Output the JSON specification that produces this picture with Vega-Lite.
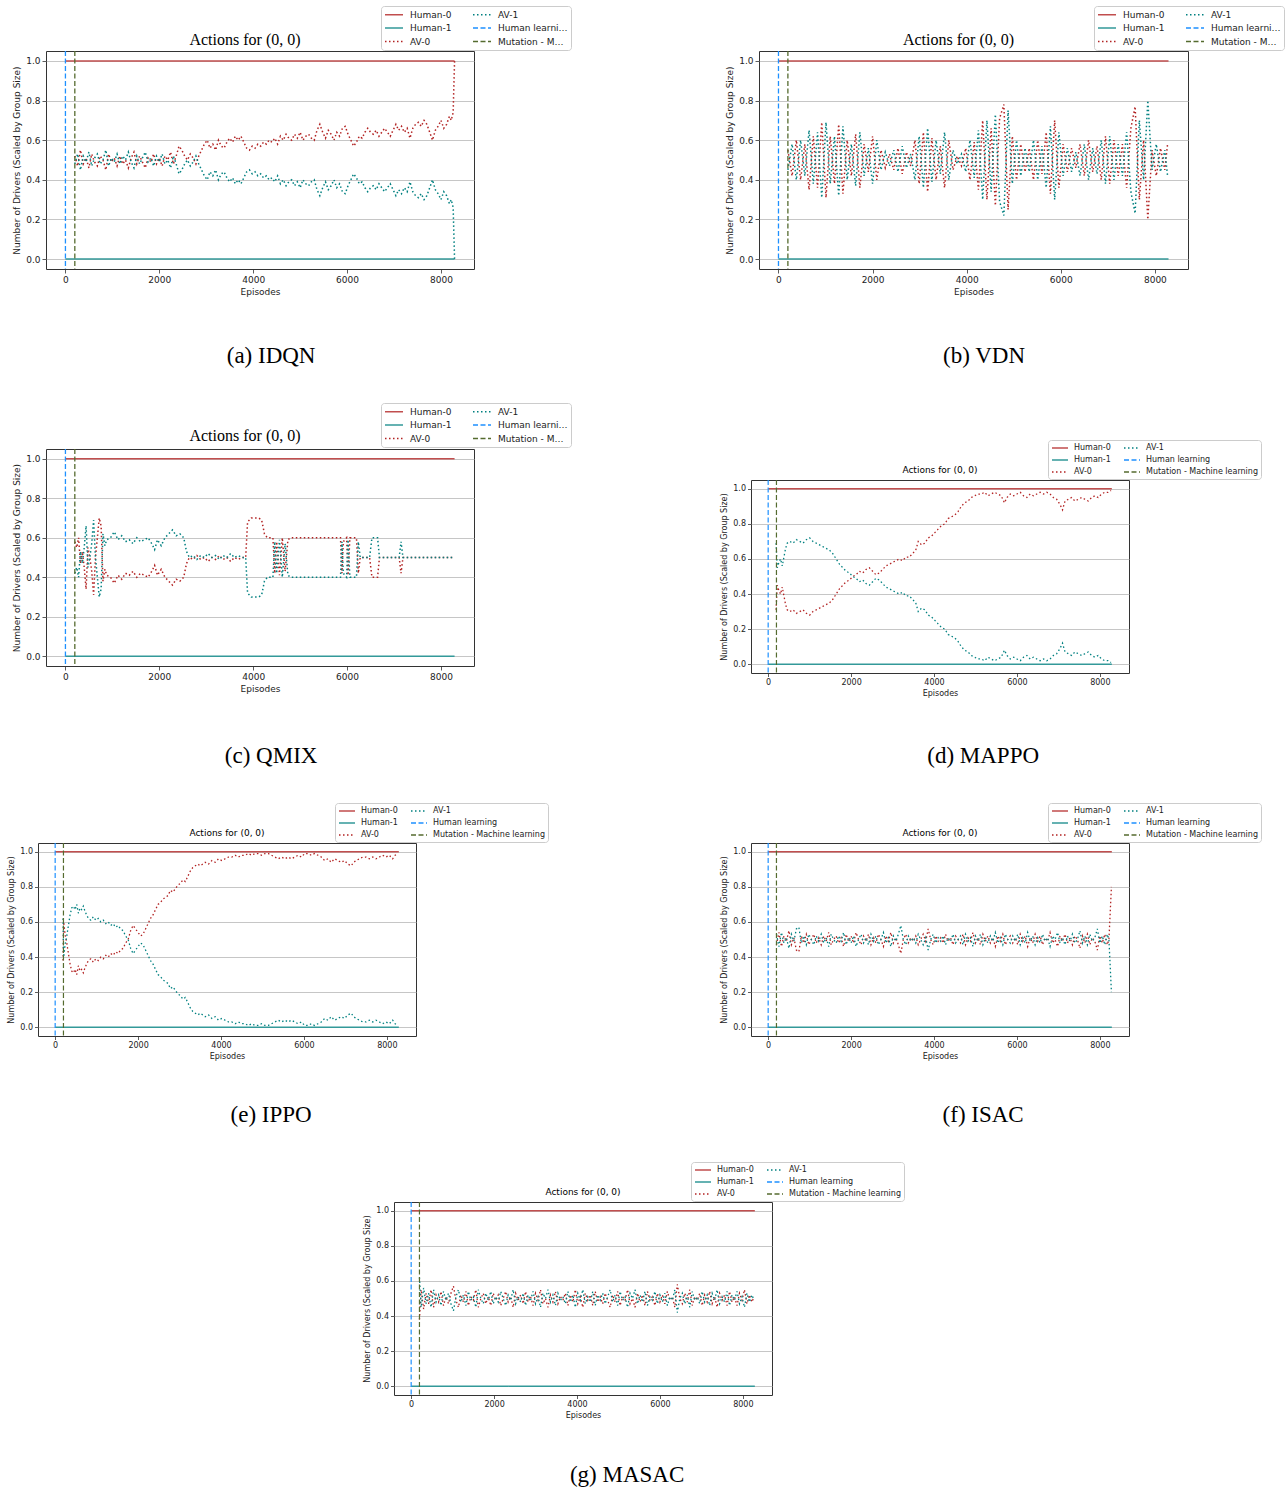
{
"$schema":"https://vega.github.io/schema/vega-lite/v6.json",
"background":"#ffffff",
"padding":{"left":7,"top":5,"right":0,"bottom":0},
"config":{"view":{"stroke":"#333333","strokeWidth":1},"font":"DejaVu Sans"},
"resolve":{"scale":{"color":"independent","strokeDash":"independent"},"legend":{"color":"independent","strokeDash":"independent"}},
"datasets":{
"hum":[{"ep":0,"Human-0":1,"Human-1":0},{"ep":8290,"Human-0":1,"Human-1":0}],
"rules":[{"ep":0,"s":"Human learning"},{"ep":200,"s":"Mutation - Machine learning"}],
"a":[{"ep":200,"AV-0":0.52,"AV-1":0.48},{"ep":260,"AV-0":0.47,"AV-1":0.53},{"ep":320,"AV-0":0.55,"AV-1":0.45},{"ep":380,"AV-0":0.48,"AV-1":0.52},{"ep":440,"AV-0":0.51,"AV-1":0.49},{"ep":500,"AV-0":0.46,"AV-1":0.54},{"ep":560,"AV-0":0.53,"AV-1":0.47},{"ep":620,"AV-0":0.49,"AV-1":0.51},{"ep":680,"AV-0":0.47,"AV-1":0.53},{"ep":740,"AV-0":0.52,"AV-1":0.48},{"ep":800,"AV-0":0.5,"AV-1":0.5},{"ep":860,"AV-0":0.45,"AV-1":0.55},{"ep":920,"AV-0":0.53,"AV-1":0.47},{"ep":980,"AV-0":0.49,"AV-1":0.51},{"ep":1040,"AV-0":0.51,"AV-1":0.49},{"ep":1100,"AV-0":0.47,"AV-1":0.53},{"ep":1160,"AV-0":0.52,"AV-1":0.48},{"ep":1220,"AV-0":0.48,"AV-1":0.52},{"ep":1280,"AV-0":0.5,"AV-1":0.5},{"ep":1340,"AV-0":0.46,"AV-1":0.54},{"ep":1400,"AV-0":0.51,"AV-1":0.49},{"ep":1460,"AV-0":0.54,"AV-1":0.46},{"ep":1520,"AV-0":0.48,"AV-1":0.52},{"ep":1580,"AV-0":0.52,"AV-1":0.48},{"ep":1640,"AV-0":0.49,"AV-1":0.51},{"ep":1700,"AV-0":0.46,"AV-1":0.54},{"ep":1760,"AV-0":0.51,"AV-1":0.49},{"ep":1820,"AV-0":0.49,"AV-1":0.51},{"ep":1880,"AV-0":0.53,"AV-1":0.47},{"ep":1940,"AV-0":0.48,"AV-1":0.52},{"ep":2000,"AV-0":0.51,"AV-1":0.49},{"ep":2060,"AV-0":0.47,"AV-1":0.53},{"ep":2120,"AV-0":0.52,"AV-1":0.48},{"ep":2180,"AV-0":0.5,"AV-1":0.5},{"ep":2240,"AV-0":0.54,"AV-1":0.46},{"ep":2300,"AV-0":0.48,"AV-1":0.52},{"ep":2360,"AV-0":0.52,"AV-1":0.48},{"ep":2420,"AV-0":0.57,"AV-1":0.43},{"ep":2480,"AV-0":0.55,"AV-1":0.45},{"ep":2540,"AV-0":0.52,"AV-1":0.48},{"ep":2600,"AV-0":0.5,"AV-1":0.5},{"ep":2660,"AV-0":0.53,"AV-1":0.47},{"ep":2720,"AV-0":0.51,"AV-1":0.49},{"ep":2780,"AV-0":0.48,"AV-1":0.52},{"ep":2840,"AV-0":0.52,"AV-1":0.48},{"ep":2900,"AV-0":0.55,"AV-1":0.45},{"ep":2960,"AV-0":0.58,"AV-1":0.42},{"ep":3020,"AV-0":0.6,"AV-1":0.4},{"ep":3080,"AV-0":0.56,"AV-1":0.44},{"ep":3140,"AV-0":0.58,"AV-1":0.42},{"ep":3200,"AV-0":0.55,"AV-1":0.45},{"ep":3260,"AV-0":0.6,"AV-1":0.4},{"ep":3320,"AV-0":0.57,"AV-1":0.43},{"ep":3380,"AV-0":0.56,"AV-1":0.44},{"ep":3440,"AV-0":0.59,"AV-1":0.41},{"ep":3500,"AV-0":0.61,"AV-1":0.39},{"ep":3560,"AV-0":0.59,"AV-1":0.41},{"ep":3620,"AV-0":0.62,"AV-1":0.38},{"ep":3680,"AV-0":0.6,"AV-1":0.4},{"ep":3740,"AV-0":0.62,"AV-1":0.38},{"ep":3800,"AV-0":0.59,"AV-1":0.41},{"ep":3860,"AV-0":0.56,"AV-1":0.44},{"ep":3920,"AV-0":0.55,"AV-1":0.45},{"ep":3980,"AV-0":0.57,"AV-1":0.43},{"ep":4040,"AV-0":0.56,"AV-1":0.44},{"ep":4100,"AV-0":0.58,"AV-1":0.42},{"ep":4160,"AV-0":0.57,"AV-1":0.43},{"ep":4220,"AV-0":0.59,"AV-1":0.41},{"ep":4280,"AV-0":0.58,"AV-1":0.42},{"ep":4340,"AV-0":0.6,"AV-1":0.4},{"ep":4400,"AV-0":0.59,"AV-1":0.41},{"ep":4460,"AV-0":0.61,"AV-1":0.39},{"ep":4520,"AV-0":0.58,"AV-1":0.42},{"ep":4580,"AV-0":0.62,"AV-1":0.38},{"ep":4640,"AV-0":0.6,"AV-1":0.4},{"ep":4700,"AV-0":0.63,"AV-1":0.37},{"ep":4760,"AV-0":0.61,"AV-1":0.39},{"ep":4820,"AV-0":0.6,"AV-1":0.4},{"ep":4880,"AV-0":0.63,"AV-1":0.37},{"ep":4940,"AV-0":0.61,"AV-1":0.39},{"ep":5000,"AV-0":0.64,"AV-1":0.36},{"ep":5060,"AV-0":0.6,"AV-1":0.4},{"ep":5120,"AV-0":0.62,"AV-1":0.38},{"ep":5180,"AV-0":0.63,"AV-1":0.37},{"ep":5240,"AV-0":0.61,"AV-1":0.39},{"ep":5300,"AV-0":0.6,"AV-1":0.4},{"ep":5360,"AV-0":0.65,"AV-1":0.35},{"ep":5420,"AV-0":0.68,"AV-1":0.32},{"ep":5480,"AV-0":0.64,"AV-1":0.36},{"ep":5540,"AV-0":0.61,"AV-1":0.39},{"ep":5600,"AV-0":0.65,"AV-1":0.35},{"ep":5660,"AV-0":0.63,"AV-1":0.37},{"ep":5720,"AV-0":0.6,"AV-1":0.4},{"ep":5780,"AV-0":0.64,"AV-1":0.36},{"ep":5840,"AV-0":0.62,"AV-1":0.38},{"ep":5900,"AV-0":0.66,"AV-1":0.34},{"ep":5960,"AV-0":0.67,"AV-1":0.33},{"ep":6020,"AV-0":0.63,"AV-1":0.37},{"ep":6080,"AV-0":0.6,"AV-1":0.4},{"ep":6140,"AV-0":0.57,"AV-1":0.43},{"ep":6200,"AV-0":0.59,"AV-1":0.41},{"ep":6260,"AV-0":0.62,"AV-1":0.38},{"ep":6320,"AV-0":0.61,"AV-1":0.39},{"ep":6380,"AV-0":0.64,"AV-1":0.36},{"ep":6440,"AV-0":0.66,"AV-1":0.34},{"ep":6500,"AV-0":0.64,"AV-1":0.36},{"ep":6560,"AV-0":0.63,"AV-1":0.37},{"ep":6620,"AV-0":0.65,"AV-1":0.35},{"ep":6680,"AV-0":0.62,"AV-1":0.38},{"ep":6740,"AV-0":0.64,"AV-1":0.36},{"ep":6800,"AV-0":0.66,"AV-1":0.34},{"ep":6860,"AV-0":0.64,"AV-1":0.36},{"ep":6920,"AV-0":0.62,"AV-1":0.38},{"ep":6980,"AV-0":0.65,"AV-1":0.35},{"ep":7040,"AV-0":0.68,"AV-1":0.32},{"ep":7100,"AV-0":0.65,"AV-1":0.35},{"ep":7160,"AV-0":0.67,"AV-1":0.33},{"ep":7220,"AV-0":0.64,"AV-1":0.36},{"ep":7280,"AV-0":0.66,"AV-1":0.34},{"ep":7340,"AV-0":0.61,"AV-1":0.39},{"ep":7400,"AV-0":0.66,"AV-1":0.34},{"ep":7460,"AV-0":0.68,"AV-1":0.32},{"ep":7520,"AV-0":0.69,"AV-1":0.31},{"ep":7580,"AV-0":0.67,"AV-1":0.33},{"ep":7640,"AV-0":0.7,"AV-1":0.3},{"ep":7700,"AV-0":0.68,"AV-1":0.32},{"ep":7760,"AV-0":0.64,"AV-1":0.36},{"ep":7820,"AV-0":0.6,"AV-1":0.4},{"ep":7880,"AV-0":0.65,"AV-1":0.35},{"ep":7940,"AV-0":0.67,"AV-1":0.33},{"ep":8000,"AV-0":0.7,"AV-1":0.3},{"ep":8060,"AV-0":0.66,"AV-1":0.34},{"ep":8120,"AV-0":0.68,"AV-1":0.32},{"ep":8180,"AV-0":0.72,"AV-1":0.28},{"ep":8220,"AV-0":0.7,"AV-1":0.3},{"ep":8260,"AV-0":0.74,"AV-1":0.26},{"ep":8290,"AV-0":1,"AV-1":0}],
"b":[{"ep":200,"AV-0":0.55,"AV-1":0.45},{"ep":290,"AV-0":0.42,"AV-1":0.58},{"ep":380,"AV-0":0.6,"AV-1":0.4},{"ep":470,"AV-0":0.4,"AV-1":0.6},{"ep":560,"AV-0":0.58,"AV-1":0.42},{"ep":650,"AV-0":0.35,"AV-1":0.65},{"ep":740,"AV-0":0.62,"AV-1":0.38},{"ep":830,"AV-0":0.36,"AV-1":0.64},{"ep":920,"AV-0":0.69,"AV-1":0.31},{"ep":1010,"AV-0":0.31,"AV-1":0.69},{"ep":1100,"AV-0":0.62,"AV-1":0.38},{"ep":1190,"AV-0":0.38,"AV-1":0.62},{"ep":1280,"AV-0":0.68,"AV-1":0.32},{"ep":1370,"AV-0":0.33,"AV-1":0.67},{"ep":1460,"AV-0":0.6,"AV-1":0.4},{"ep":1550,"AV-0":0.42,"AV-1":0.58},{"ep":1640,"AV-0":0.63,"AV-1":0.37},{"ep":1730,"AV-0":0.36,"AV-1":0.64},{"ep":1820,"AV-0":0.58,"AV-1":0.42},{"ep":1910,"AV-0":0.44,"AV-1":0.56},{"ep":2000,"AV-0":0.62,"AV-1":0.38},{"ep":2090,"AV-0":0.4,"AV-1":0.6},{"ep":2180,"AV-0":0.55,"AV-1":0.45},{"ep":2270,"AV-0":0.46,"AV-1":0.54},{"ep":2360,"AV-0":0.53,"AV-1":0.47},{"ep":2450,"AV-0":0.45,"AV-1":0.55},{"ep":2540,"AV-0":0.56,"AV-1":0.44},{"ep":2630,"AV-0":0.43,"AV-1":0.57},{"ep":2720,"AV-0":0.54,"AV-1":0.46},{"ep":2810,"AV-0":0.47,"AV-1":0.53},{"ep":2900,"AV-0":0.6,"AV-1":0.4},{"ep":2990,"AV-0":0.38,"AV-1":0.62},{"ep":3080,"AV-0":0.64,"AV-1":0.36},{"ep":3170,"AV-0":0.34,"AV-1":0.66},{"ep":3260,"AV-0":0.61,"AV-1":0.39},{"ep":3350,"AV-0":0.4,"AV-1":0.6},{"ep":3440,"AV-0":0.57,"AV-1":0.43},{"ep":3530,"AV-0":0.36,"AV-1":0.64},{"ep":3620,"AV-0":0.6,"AV-1":0.4},{"ep":3710,"AV-0":0.45,"AV-1":0.55},{"ep":3800,"AV-0":0.52,"AV-1":0.48},{"ep":3890,"AV-0":0.47,"AV-1":0.53},{"ep":3980,"AV-0":0.56,"AV-1":0.44},{"ep":4070,"AV-0":0.4,"AV-1":0.6},{"ep":4160,"AV-0":0.59,"AV-1":0.41},{"ep":4250,"AV-0":0.35,"AV-1":0.65},{"ep":4340,"AV-0":0.7,"AV-1":0.3},{"ep":4430,"AV-0":0.3,"AV-1":0.7},{"ep":4520,"AV-0":0.66,"AV-1":0.34},{"ep":4610,"AV-0":0.27,"AV-1":0.73},{"ep":4700,"AV-0":0.71,"AV-1":0.29},{"ep":4790,"AV-0":0.78,"AV-1":0.22},{"ep":4880,"AV-0":0.25,"AV-1":0.75},{"ep":4970,"AV-0":0.62,"AV-1":0.38},{"ep":5060,"AV-0":0.4,"AV-1":0.6},{"ep":5150,"AV-0":0.58,"AV-1":0.42},{"ep":5240,"AV-0":0.44,"AV-1":0.56},{"ep":5330,"AV-0":0.56,"AV-1":0.44},{"ep":5420,"AV-0":0.4,"AV-1":0.6},{"ep":5510,"AV-0":0.6,"AV-1":0.4},{"ep":5600,"AV-0":0.43,"AV-1":0.57},{"ep":5690,"AV-0":0.64,"AV-1":0.36},{"ep":5780,"AV-0":0.33,"AV-1":0.67},{"ep":5870,"AV-0":0.7,"AV-1":0.3},{"ep":5960,"AV-0":0.36,"AV-1":0.64},{"ep":6050,"AV-0":0.58,"AV-1":0.42},{"ep":6140,"AV-0":0.44,"AV-1":0.56},{"ep":6230,"AV-0":0.56,"AV-1":0.44},{"ep":6320,"AV-0":0.46,"AV-1":0.54},{"ep":6410,"AV-0":0.58,"AV-1":0.42},{"ep":6500,"AV-0":0.42,"AV-1":0.58},{"ep":6590,"AV-0":0.6,"AV-1":0.4},{"ep":6680,"AV-0":0.44,"AV-1":0.56},{"ep":6770,"AV-0":0.57,"AV-1":0.43},{"ep":6860,"AV-0":0.4,"AV-1":0.6},{"ep":6950,"AV-0":0.62,"AV-1":0.38},{"ep":7040,"AV-0":0.38,"AV-1":0.62},{"ep":7130,"AV-0":0.6,"AV-1":0.4},{"ep":7220,"AV-0":0.42,"AV-1":0.58},{"ep":7310,"AV-0":0.58,"AV-1":0.42},{"ep":7400,"AV-0":0.36,"AV-1":0.64},{"ep":7490,"AV-0":0.66,"AV-1":0.34},{"ep":7580,"AV-0":0.77,"AV-1":0.23},{"ep":7670,"AV-0":0.3,"AV-1":0.7},{"ep":7760,"AV-0":0.6,"AV-1":0.4},{"ep":7850,"AV-0":0.2,"AV-1":0.8},{"ep":7940,"AV-0":0.55,"AV-1":0.45},{"ep":8030,"AV-0":0.42,"AV-1":0.58},{"ep":8120,"AV-0":0.56,"AV-1":0.44},{"ep":8210,"AV-0":0.45,"AV-1":0.55},{"ep":8270,"AV-0":0.58,"AV-1":0.42}],
"c":[{"ep":200,"AV-0":0.58,"AV-1":0.42},{"ep":240,"AV-0":0.55,"AV-1":0.45},{"ep":280,"AV-0":0.6,"AV-1":0.4},{"ep":320,"AV-0":0.47,"AV-1":0.53},{"ep":360,"AV-0":0.53,"AV-1":0.47},{"ep":400,"AV-0":0.45,"AV-1":0.55},{"ep":440,"AV-0":0.34,"AV-1":0.66},{"ep":480,"AV-0":0.55,"AV-1":0.45},{"ep":520,"AV-0":0.5,"AV-1":0.5},{"ep":560,"AV-0":0.43,"AV-1":0.57},{"ep":600,"AV-0":0.31,"AV-1":0.69},{"ep":640,"AV-0":0.5,"AV-1":0.5},{"ep":680,"AV-0":0.6,"AV-1":0.4},{"ep":720,"AV-0":0.7,"AV-1":0.3},{"ep":760,"AV-0":0.66,"AV-1":0.34},{"ep":800,"AV-0":0.38,"AV-1":0.62},{"ep":840,"AV-0":0.44,"AV-1":0.56},{"ep":880,"AV-0":0.41,"AV-1":0.59},{"ep":960,"AV-0":0.4,"AV-1":0.6},{"ep":1040,"AV-0":0.37,"AV-1":0.63},{"ep":1120,"AV-0":0.41,"AV-1":0.59},{"ep":1200,"AV-0":0.39,"AV-1":0.61},{"ep":1280,"AV-0":0.42,"AV-1":0.58},{"ep":1360,"AV-0":0.41,"AV-1":0.59},{"ep":1440,"AV-0":0.43,"AV-1":0.57},{"ep":1520,"AV-0":0.4,"AV-1":0.6},{"ep":1600,"AV-0":0.42,"AV-1":0.58},{"ep":1680,"AV-0":0.41,"AV-1":0.59},{"ep":1760,"AV-0":0.4,"AV-1":0.6},{"ep":1840,"AV-0":0.43,"AV-1":0.57},{"ep":1900,"AV-0":0.46,"AV-1":0.54},{"ep":1960,"AV-0":0.41,"AV-1":0.59},{"ep":2040,"AV-0":0.44,"AV-1":0.56},{"ep":2120,"AV-0":0.4,"AV-1":0.6},{"ep":2200,"AV-0":0.38,"AV-1":0.62},{"ep":2280,"AV-0":0.36,"AV-1":0.64},{"ep":2360,"AV-0":0.39,"AV-1":0.61},{"ep":2440,"AV-0":0.38,"AV-1":0.62},{"ep":2520,"AV-0":0.4,"AV-1":0.6},{"ep":2580,"AV-0":0.47,"AV-1":0.53},{"ep":2640,"AV-0":0.5,"AV-1":0.5},{"ep":2720,"AV-0":0.49,"AV-1":0.51},{"ep":2800,"AV-0":0.51,"AV-1":0.49},{"ep":2880,"AV-0":0.49,"AV-1":0.51},{"ep":2960,"AV-0":0.5,"AV-1":0.5},{"ep":3040,"AV-0":0.48,"AV-1":0.52},{"ep":3120,"AV-0":0.5,"AV-1":0.5},{"ep":3200,"AV-0":0.49,"AV-1":0.51},{"ep":3280,"AV-0":0.51,"AV-1":0.49},{"ep":3360,"AV-0":0.49,"AV-1":0.51},{"ep":3440,"AV-0":0.5,"AV-1":0.5},{"ep":3520,"AV-0":0.48,"AV-1":0.52},{"ep":3600,"AV-0":0.5,"AV-1":0.5},{"ep":3680,"AV-0":0.49,"AV-1":0.51},{"ep":3760,"AV-0":0.5,"AV-1":0.5},{"ep":3840,"AV-0":0.5,"AV-1":0.5},{"ep":3880,"AV-0":0.68,"AV-1":0.32},{"ep":3960,"AV-0":0.7,"AV-1":0.3},{"ep":4040,"AV-0":0.7,"AV-1":0.3},{"ep":4120,"AV-0":0.7,"AV-1":0.3},{"ep":4180,"AV-0":0.69,"AV-1":0.31},{"ep":4240,"AV-0":0.62,"AV-1":0.38},{"ep":4300,"AV-0":0.6,"AV-1":0.4},{"ep":4420,"AV-0":0.6,"AV-1":0.4},{"ep":4460,"AV-0":0.42,"AV-1":0.58},{"ep":4500,"AV-0":0.58,"AV-1":0.42},{"ep":4560,"AV-0":0.41,"AV-1":0.59},{"ep":4620,"AV-0":0.6,"AV-1":0.4},{"ep":4680,"AV-0":0.43,"AV-1":0.57},{"ep":4740,"AV-0":0.59,"AV-1":0.41},{"ep":4800,"AV-0":0.6,"AV-1":0.4},{"ep":5400,"AV-0":0.6,"AV-1":0.4},{"ep":5860,"AV-0":0.6,"AV-1":0.4},{"ep":5890,"AV-0":0.42,"AV-1":0.58},{"ep":5920,"AV-0":0.58,"AV-1":0.42},{"ep":5990,"AV-0":0.6,"AV-1":0.4},{"ep":6020,"AV-0":0.41,"AV-1":0.59},{"ep":6060,"AV-0":0.6,"AV-1":0.4},{"ep":6200,"AV-0":0.6,"AV-1":0.4},{"ep":6240,"AV-0":0.42,"AV-1":0.58},{"ep":6280,"AV-0":0.5,"AV-1":0.5},{"ep":6480,"AV-0":0.5,"AV-1":0.5},{"ep":6530,"AV-0":0.4,"AV-1":0.6},{"ep":6650,"AV-0":0.4,"AV-1":0.6},{"ep":6690,"AV-0":0.5,"AV-1":0.5},{"ep":7110,"AV-0":0.5,"AV-1":0.5},{"ep":7150,"AV-0":0.42,"AV-1":0.58},{"ep":7190,"AV-0":0.5,"AV-1":0.5},{"ep":8290,"AV-0":0.5,"AV-1":0.5}],
"d":[{"ep":190,"AV-0":0.31,"AV-1":0.69},{"ep":220,"AV-0":0.45,"AV-1":0.55},{"ep":260,"AV-0":0.42,"AV-1":0.58},{"ep":300,"AV-0":0.4,"AV-1":0.6},{"ep":340,"AV-0":0.44,"AV-1":0.56},{"ep":380,"AV-0":0.39,"AV-1":0.61},{"ep":420,"AV-0":0.34,"AV-1":0.66},{"ep":460,"AV-0":0.31,"AV-1":0.69},{"ep":520,"AV-0":0.3,"AV-1":0.7},{"ep":600,"AV-0":0.31,"AV-1":0.69},{"ep":680,"AV-0":0.29,"AV-1":0.71},{"ep":760,"AV-0":0.3,"AV-1":0.7},{"ep":840,"AV-0":0.31,"AV-1":0.69},{"ep":920,"AV-0":0.29,"AV-1":0.71},{"ep":1000,"AV-0":0.28,"AV-1":0.72},{"ep":1080,"AV-0":0.3,"AV-1":0.7},{"ep":1160,"AV-0":0.31,"AV-1":0.69},{"ep":1240,"AV-0":0.32,"AV-1":0.68},{"ep":1320,"AV-0":0.33,"AV-1":0.67},{"ep":1400,"AV-0":0.34,"AV-1":0.66},{"ep":1480,"AV-0":0.35,"AV-1":0.65},{"ep":1560,"AV-0":0.37,"AV-1":0.63},{"ep":1640,"AV-0":0.4,"AV-1":0.6},{"ep":1720,"AV-0":0.43,"AV-1":0.57},{"ep":1800,"AV-0":0.45,"AV-1":0.55},{"ep":1880,"AV-0":0.47,"AV-1":0.53},{"ep":1960,"AV-0":0.48,"AV-1":0.52},{"ep":2040,"AV-0":0.5,"AV-1":0.5},{"ep":2120,"AV-0":0.51,"AV-1":0.49},{"ep":2200,"AV-0":0.53,"AV-1":0.47},{"ep":2280,"AV-0":0.52,"AV-1":0.48},{"ep":2360,"AV-0":0.54,"AV-1":0.46},{"ep":2440,"AV-0":0.55,"AV-1":0.45},{"ep":2520,"AV-0":0.53,"AV-1":0.47},{"ep":2600,"AV-0":0.51,"AV-1":0.49},{"ep":2680,"AV-0":0.52,"AV-1":0.48},{"ep":2760,"AV-0":0.54,"AV-1":0.46},{"ep":2840,"AV-0":0.56,"AV-1":0.44},{"ep":2920,"AV-0":0.57,"AV-1":0.43},{"ep":3000,"AV-0":0.58,"AV-1":0.42},{"ep":3080,"AV-0":0.59,"AV-1":0.41},{"ep":3160,"AV-0":0.6,"AV-1":0.4},{"ep":3240,"AV-0":0.59,"AV-1":0.41},{"ep":3320,"AV-0":0.61,"AV-1":0.39},{"ep":3400,"AV-0":0.61,"AV-1":0.39},{"ep":3480,"AV-0":0.63,"AV-1":0.37},{"ep":3560,"AV-0":0.65,"AV-1":0.35},{"ep":3620,"AV-0":0.7,"AV-1":0.3},{"ep":3700,"AV-0":0.68,"AV-1":0.32},{"ep":3780,"AV-0":0.69,"AV-1":0.31},{"ep":3860,"AV-0":0.72,"AV-1":0.28},{"ep":3940,"AV-0":0.73,"AV-1":0.27},{"ep":4020,"AV-0":0.75,"AV-1":0.25},{"ep":4100,"AV-0":0.77,"AV-1":0.23},{"ep":4180,"AV-0":0.79,"AV-1":0.21},{"ep":4260,"AV-0":0.8,"AV-1":0.2},{"ep":4340,"AV-0":0.83,"AV-1":0.17},{"ep":4420,"AV-0":0.84,"AV-1":0.16},{"ep":4500,"AV-0":0.85,"AV-1":0.15},{"ep":4580,"AV-0":0.87,"AV-1":0.13},{"ep":4660,"AV-0":0.9,"AV-1":0.1},{"ep":4740,"AV-0":0.92,"AV-1":0.08},{"ep":4820,"AV-0":0.93,"AV-1":0.07},{"ep":4900,"AV-0":0.95,"AV-1":0.05},{"ep":4980,"AV-0":0.96,"AV-1":0.04},{"ep":5060,"AV-0":0.97,"AV-1":0.03},{"ep":5140,"AV-0":0.97,"AV-1":0.03},{"ep":5220,"AV-0":0.98,"AV-1":0.02},{"ep":5300,"AV-0":0.96,"AV-1":0.04},{"ep":5380,"AV-0":0.97,"AV-1":0.03},{"ep":5460,"AV-0":0.98,"AV-1":0.02},{"ep":5540,"AV-0":0.97,"AV-1":0.03},{"ep":5620,"AV-0":0.96,"AV-1":0.04},{"ep":5700,"AV-0":0.92,"AV-1":0.08},{"ep":5760,"AV-0":0.95,"AV-1":0.05},{"ep":5840,"AV-0":0.97,"AV-1":0.03},{"ep":5920,"AV-0":0.96,"AV-1":0.04},{"ep":6000,"AV-0":0.97,"AV-1":0.03},{"ep":6080,"AV-0":0.98,"AV-1":0.02},{"ep":6160,"AV-0":0.96,"AV-1":0.04},{"ep":6240,"AV-0":0.95,"AV-1":0.05},{"ep":6320,"AV-0":0.97,"AV-1":0.03},{"ep":6400,"AV-0":0.96,"AV-1":0.04},{"ep":6480,"AV-0":0.97,"AV-1":0.03},{"ep":6560,"AV-0":0.98,"AV-1":0.02},{"ep":6640,"AV-0":0.97,"AV-1":0.03},{"ep":6720,"AV-0":0.98,"AV-1":0.02},{"ep":6800,"AV-0":0.97,"AV-1":0.03},{"ep":6880,"AV-0":0.95,"AV-1":0.05},{"ep":6960,"AV-0":0.94,"AV-1":0.06},{"ep":7040,"AV-0":0.91,"AV-1":0.09},{"ep":7100,"AV-0":0.88,"AV-1":0.12},{"ep":7160,"AV-0":0.93,"AV-1":0.07},{"ep":7240,"AV-0":0.94,"AV-1":0.06},{"ep":7320,"AV-0":0.95,"AV-1":0.05},{"ep":7400,"AV-0":0.93,"AV-1":0.07},{"ep":7480,"AV-0":0.94,"AV-1":0.06},{"ep":7560,"AV-0":0.95,"AV-1":0.05},{"ep":7640,"AV-0":0.94,"AV-1":0.06},{"ep":7720,"AV-0":0.93,"AV-1":0.07},{"ep":7800,"AV-0":0.95,"AV-1":0.05},{"ep":7880,"AV-0":0.96,"AV-1":0.04},{"ep":7960,"AV-0":0.95,"AV-1":0.05},{"ep":8040,"AV-0":0.97,"AV-1":0.03},{"ep":8120,"AV-0":0.98,"AV-1":0.02},{"ep":8200,"AV-0":0.98,"AV-1":0.02},{"ep":8270,"AV-0":0.99,"AV-1":0.01}],
"e":[{"ep":190,"AV-0":0.38,"AV-1":0.62},{"ep":205,"AV-0":0.6,"AV-1":0.4},{"ep":240,"AV-0":0.53,"AV-1":0.47},{"ep":280,"AV-0":0.48,"AV-1":0.52},{"ep":320,"AV-0":0.42,"AV-1":0.58},{"ep":360,"AV-0":0.36,"AV-1":0.64},{"ep":400,"AV-0":0.32,"AV-1":0.68},{"ep":440,"AV-0":0.31,"AV-1":0.69},{"ep":480,"AV-0":0.33,"AV-1":0.67},{"ep":520,"AV-0":0.3,"AV-1":0.7},{"ep":560,"AV-0":0.35,"AV-1":0.65},{"ep":600,"AV-0":0.32,"AV-1":0.68},{"ep":640,"AV-0":0.33,"AV-1":0.67},{"ep":680,"AV-0":0.31,"AV-1":0.69},{"ep":720,"AV-0":0.34,"AV-1":0.66},{"ep":760,"AV-0":0.36,"AV-1":0.64},{"ep":800,"AV-0":0.38,"AV-1":0.62},{"ep":860,"AV-0":0.39,"AV-1":0.61},{"ep":920,"AV-0":0.37,"AV-1":0.63},{"ep":980,"AV-0":0.39,"AV-1":0.61},{"ep":1040,"AV-0":0.38,"AV-1":0.62},{"ep":1100,"AV-0":0.4,"AV-1":0.6},{"ep":1160,"AV-0":0.39,"AV-1":0.61},{"ep":1220,"AV-0":0.41,"AV-1":0.59},{"ep":1280,"AV-0":0.4,"AV-1":0.6},{"ep":1340,"AV-0":0.42,"AV-1":0.58},{"ep":1400,"AV-0":0.41,"AV-1":0.59},{"ep":1460,"AV-0":0.43,"AV-1":0.57},{"ep":1520,"AV-0":0.42,"AV-1":0.58},{"ep":1580,"AV-0":0.44,"AV-1":0.56},{"ep":1640,"AV-0":0.45,"AV-1":0.55},{"ep":1700,"AV-0":0.48,"AV-1":0.52},{"ep":1760,"AV-0":0.5,"AV-1":0.5},{"ep":1820,"AV-0":0.55,"AV-1":0.45},{"ep":1880,"AV-0":0.58,"AV-1":0.42},{"ep":1940,"AV-0":0.56,"AV-1":0.44},{"ep":2000,"AV-0":0.54,"AV-1":0.46},{"ep":2060,"AV-0":0.52,"AV-1":0.48},{"ep":2120,"AV-0":0.53,"AV-1":0.47},{"ep":2180,"AV-0":0.56,"AV-1":0.44},{"ep":2240,"AV-0":0.59,"AV-1":0.41},{"ep":2300,"AV-0":0.62,"AV-1":0.38},{"ep":2360,"AV-0":0.64,"AV-1":0.36},{"ep":2420,"AV-0":0.67,"AV-1":0.33},{"ep":2480,"AV-0":0.7,"AV-1":0.3},{"ep":2540,"AV-0":0.71,"AV-1":0.29},{"ep":2600,"AV-0":0.73,"AV-1":0.27},{"ep":2660,"AV-0":0.74,"AV-1":0.26},{"ep":2720,"AV-0":0.75,"AV-1":0.25},{"ep":2780,"AV-0":0.78,"AV-1":0.22},{"ep":2840,"AV-0":0.77,"AV-1":0.23},{"ep":2900,"AV-0":0.79,"AV-1":0.21},{"ep":2960,"AV-0":0.81,"AV-1":0.19},{"ep":3020,"AV-0":0.82,"AV-1":0.18},{"ep":3080,"AV-0":0.84,"AV-1":0.16},{"ep":3140,"AV-0":0.83,"AV-1":0.17},{"ep":3200,"AV-0":0.86,"AV-1":0.14},{"ep":3260,"AV-0":0.89,"AV-1":0.11},{"ep":3320,"AV-0":0.91,"AV-1":0.09},{"ep":3380,"AV-0":0.92,"AV-1":0.08},{"ep":3440,"AV-0":0.93,"AV-1":0.07},{"ep":3500,"AV-0":0.92,"AV-1":0.08},{"ep":3560,"AV-0":0.93,"AV-1":0.07},{"ep":3620,"AV-0":0.94,"AV-1":0.06},{"ep":3700,"AV-0":0.93,"AV-1":0.07},{"ep":3780,"AV-0":0.95,"AV-1":0.05},{"ep":3860,"AV-0":0.94,"AV-1":0.06},{"ep":3940,"AV-0":0.96,"AV-1":0.04},{"ep":4020,"AV-0":0.95,"AV-1":0.05},{"ep":4100,"AV-0":0.96,"AV-1":0.04},{"ep":4180,"AV-0":0.97,"AV-1":0.03},{"ep":4260,"AV-0":0.97,"AV-1":0.03},{"ep":4340,"AV-0":0.98,"AV-1":0.02},{"ep":4420,"AV-0":0.97,"AV-1":0.03},{"ep":4500,"AV-0":0.98,"AV-1":0.02},{"ep":4580,"AV-0":0.98,"AV-1":0.02},{"ep":4660,"AV-0":0.99,"AV-1":0.01},{"ep":4740,"AV-0":0.98,"AV-1":0.02},{"ep":4820,"AV-0":0.99,"AV-1":0.01},{"ep":4900,"AV-0":0.99,"AV-1":0.01},{"ep":4980,"AV-0":0.98,"AV-1":0.02},{"ep":5060,"AV-0":0.99,"AV-1":0.01},{"ep":5140,"AV-0":0.99,"AV-1":0.01},{"ep":5220,"AV-0":0.98,"AV-1":0.02},{"ep":5300,"AV-0":0.97,"AV-1":0.03},{"ep":5380,"AV-0":0.96,"AV-1":0.04},{"ep":5460,"AV-0":0.97,"AV-1":0.03},{"ep":5540,"AV-0":0.96,"AV-1":0.04},{"ep":5620,"AV-0":0.97,"AV-1":0.03},{"ep":5700,"AV-0":0.96,"AV-1":0.04},{"ep":5780,"AV-0":0.97,"AV-1":0.03},{"ep":5860,"AV-0":0.98,"AV-1":0.02},{"ep":5940,"AV-0":0.97,"AV-1":0.03},{"ep":6020,"AV-0":0.99,"AV-1":0.01},{"ep":6100,"AV-0":0.99,"AV-1":0.01},{"ep":6180,"AV-0":0.98,"AV-1":0.02},{"ep":6260,"AV-0":0.99,"AV-1":0.01},{"ep":6340,"AV-0":0.98,"AV-1":0.02},{"ep":6420,"AV-0":0.97,"AV-1":0.03},{"ep":6500,"AV-0":0.95,"AV-1":0.05},{"ep":6580,"AV-0":0.96,"AV-1":0.04},{"ep":6660,"AV-0":0.94,"AV-1":0.06},{"ep":6740,"AV-0":0.96,"AV-1":0.04},{"ep":6820,"AV-0":0.95,"AV-1":0.05},{"ep":6900,"AV-0":0.94,"AV-1":0.06},{"ep":6980,"AV-0":0.95,"AV-1":0.05},{"ep":7060,"AV-0":0.93,"AV-1":0.07},{"ep":7140,"AV-0":0.92,"AV-1":0.08},{"ep":7200,"AV-0":0.94,"AV-1":0.06},{"ep":7260,"AV-0":0.95,"AV-1":0.05},{"ep":7340,"AV-0":0.96,"AV-1":0.04},{"ep":7420,"AV-0":0.97,"AV-1":0.03},{"ep":7500,"AV-0":0.97,"AV-1":0.03},{"ep":7580,"AV-0":0.96,"AV-1":0.04},{"ep":7660,"AV-0":0.97,"AV-1":0.03},{"ep":7740,"AV-0":0.96,"AV-1":0.04},{"ep":7820,"AV-0":0.97,"AV-1":0.03},{"ep":7900,"AV-0":0.98,"AV-1":0.02},{"ep":7980,"AV-0":0.97,"AV-1":0.03},{"ep":8060,"AV-0":0.98,"AV-1":0.02},{"ep":8140,"AV-0":0.96,"AV-1":0.04},{"ep":8200,"AV-0":0.98,"AV-1":0.02},{"ep":8270,"AV-0":0.99,"AV-1":0.01}],
"f":[{"ep":200,"AV-0":0.47,"AV-1":0.53},{"ep":260,"AV-0":0.54,"AV-1":0.46},{"ep":320,"AV-0":0.46,"AV-1":0.54},{"ep":380,"AV-0":0.52,"AV-1":0.48},{"ep":440,"AV-0":0.49,"AV-1":0.51},{"ep":500,"AV-0":0.55,"AV-1":0.45},{"ep":560,"AV-0":0.47,"AV-1":0.53},{"ep":620,"AV-0":0.51,"AV-1":0.49},{"ep":680,"AV-0":0.44,"AV-1":0.56},{"ep":740,"AV-0":0.43,"AV-1":0.57},{"ep":800,"AV-0":0.52,"AV-1":0.48},{"ep":860,"AV-0":0.48,"AV-1":0.52},{"ep":920,"AV-0":0.53,"AV-1":0.47},{"ep":980,"AV-0":0.47,"AV-1":0.53},{"ep":1040,"AV-0":0.5,"AV-1":0.5},{"ep":1100,"AV-0":0.53,"AV-1":0.47},{"ep":1160,"AV-0":0.48,"AV-1":0.52},{"ep":1220,"AV-0":0.51,"AV-1":0.49},{"ep":1280,"AV-0":0.47,"AV-1":0.53},{"ep":1340,"AV-0":0.52,"AV-1":0.48},{"ep":1400,"AV-0":0.49,"AV-1":0.51},{"ep":1460,"AV-0":0.54,"AV-1":0.46},{"ep":1520,"AV-0":0.47,"AV-1":0.53},{"ep":1580,"AV-0":0.5,"AV-1":0.5},{"ep":1640,"AV-0":0.52,"AV-1":0.48},{"ep":1700,"AV-0":0.48,"AV-1":0.52},{"ep":1760,"AV-0":0.51,"AV-1":0.49},{"ep":1820,"AV-0":0.46,"AV-1":0.54},{"ep":1880,"AV-0":0.53,"AV-1":0.47},{"ep":1940,"AV-0":0.49,"AV-1":0.51},{"ep":2000,"AV-0":0.52,"AV-1":0.48},{"ep":2060,"AV-0":0.48,"AV-1":0.52},{"ep":2120,"AV-0":0.54,"AV-1":0.46},{"ep":2180,"AV-0":0.5,"AV-1":0.5},{"ep":2240,"AV-0":0.47,"AV-1":0.53},{"ep":2300,"AV-0":0.52,"AV-1":0.48},{"ep":2360,"AV-0":0.49,"AV-1":0.51},{"ep":2420,"AV-0":0.53,"AV-1":0.47},{"ep":2480,"AV-0":0.47,"AV-1":0.53},{"ep":2540,"AV-0":0.51,"AV-1":0.49},{"ep":2600,"AV-0":0.48,"AV-1":0.52},{"ep":2660,"AV-0":0.53,"AV-1":0.47},{"ep":2720,"AV-0":0.5,"AV-1":0.5},{"ep":2780,"AV-0":0.46,"AV-1":0.54},{"ep":2840,"AV-0":0.52,"AV-1":0.48},{"ep":2900,"AV-0":0.49,"AV-1":0.51},{"ep":2960,"AV-0":0.54,"AV-1":0.46},{"ep":3020,"AV-0":0.48,"AV-1":0.52},{"ep":3080,"AV-0":0.51,"AV-1":0.49},{"ep":3140,"AV-0":0.47,"AV-1":0.53},{"ep":3200,"AV-0":0.42,"AV-1":0.58},{"ep":3260,"AV-0":0.5,"AV-1":0.5},{"ep":3320,"AV-0":0.53,"AV-1":0.47},{"ep":3380,"AV-0":0.48,"AV-1":0.52},{"ep":3440,"AV-0":0.51,"AV-1":0.49},{"ep":3500,"AV-0":0.49,"AV-1":0.51},{"ep":3560,"AV-0":0.52,"AV-1":0.48},{"ep":3620,"AV-0":0.47,"AV-1":0.53},{"ep":3680,"AV-0":0.5,"AV-1":0.5},{"ep":3740,"AV-0":0.53,"AV-1":0.47},{"ep":3800,"AV-0":0.49,"AV-1":0.51},{"ep":3860,"AV-0":0.56,"AV-1":0.44},{"ep":3920,"AV-0":0.5,"AV-1":0.5},{"ep":3980,"AV-0":0.47,"AV-1":0.53},{"ep":4040,"AV-0":0.52,"AV-1":0.48},{"ep":4100,"AV-0":0.49,"AV-1":0.51},{"ep":4160,"AV-0":0.51,"AV-1":0.49},{"ep":4220,"AV-0":0.48,"AV-1":0.52},{"ep":4280,"AV-0":0.53,"AV-1":0.47},{"ep":4340,"AV-0":0.49,"AV-1":0.51},{"ep":4400,"AV-0":0.51,"AV-1":0.49},{"ep":4460,"AV-0":0.47,"AV-1":0.53},{"ep":4520,"AV-0":0.52,"AV-1":0.48},{"ep":4580,"AV-0":0.5,"AV-1":0.5},{"ep":4640,"AV-0":0.48,"AV-1":0.52},{"ep":4700,"AV-0":0.53,"AV-1":0.47},{"ep":4760,"AV-0":0.47,"AV-1":0.53},{"ep":4820,"AV-0":0.51,"AV-1":0.49},{"ep":4880,"AV-0":0.49,"AV-1":0.51},{"ep":4940,"AV-0":0.54,"AV-1":0.46},{"ep":5000,"AV-0":0.48,"AV-1":0.52},{"ep":5060,"AV-0":0.51,"AV-1":0.49},{"ep":5120,"AV-0":0.47,"AV-1":0.53},{"ep":5180,"AV-0":0.53,"AV-1":0.47},{"ep":5240,"AV-0":0.49,"AV-1":0.51},{"ep":5300,"AV-0":0.52,"AV-1":0.48},{"ep":5360,"AV-0":0.48,"AV-1":0.52},{"ep":5420,"AV-0":0.51,"AV-1":0.49},{"ep":5480,"AV-0":0.46,"AV-1":0.54},{"ep":5540,"AV-0":0.52,"AV-1":0.48},{"ep":5600,"AV-0":0.49,"AV-1":0.51},{"ep":5660,"AV-0":0.53,"AV-1":0.47},{"ep":5720,"AV-0":0.47,"AV-1":0.53},{"ep":5780,"AV-0":0.5,"AV-1":0.5},{"ep":5840,"AV-0":0.52,"AV-1":0.48},{"ep":5900,"AV-0":0.48,"AV-1":0.52},{"ep":5960,"AV-0":0.51,"AV-1":0.49},{"ep":6020,"AV-0":0.47,"AV-1":0.53},{"ep":6080,"AV-0":0.53,"AV-1":0.47},{"ep":6140,"AV-0":0.49,"AV-1":0.51},{"ep":6200,"AV-0":0.52,"AV-1":0.48},{"ep":6260,"AV-0":0.46,"AV-1":0.54},{"ep":6320,"AV-0":0.51,"AV-1":0.49},{"ep":6380,"AV-0":0.48,"AV-1":0.52},{"ep":6440,"AV-0":0.53,"AV-1":0.47},{"ep":6500,"AV-0":0.49,"AV-1":0.51},{"ep":6560,"AV-0":0.52,"AV-1":0.48},{"ep":6620,"AV-0":0.47,"AV-1":0.53},{"ep":6680,"AV-0":0.51,"AV-1":0.49},{"ep":6740,"AV-0":0.49,"AV-1":0.51},{"ep":6800,"AV-0":0.54,"AV-1":0.46},{"ep":6860,"AV-0":0.48,"AV-1":0.52},{"ep":6920,"AV-0":0.5,"AV-1":0.5},{"ep":6980,"AV-0":0.46,"AV-1":0.54},{"ep":7040,"AV-0":0.52,"AV-1":0.48},{"ep":7100,"AV-0":0.49,"AV-1":0.51},{"ep":7160,"AV-0":0.53,"AV-1":0.47},{"ep":7220,"AV-0":0.48,"AV-1":0.52},{"ep":7280,"AV-0":0.51,"AV-1":0.49},{"ep":7340,"AV-0":0.47,"AV-1":0.53},{"ep":7400,"AV-0":0.52,"AV-1":0.48},{"ep":7460,"AV-0":0.5,"AV-1":0.5},{"ep":7520,"AV-0":0.45,"AV-1":0.55},{"ep":7580,"AV-0":0.52,"AV-1":0.48},{"ep":7640,"AV-0":0.48,"AV-1":0.52},{"ep":7700,"AV-0":0.53,"AV-1":0.47},{"ep":7760,"AV-0":0.47,"AV-1":0.53},{"ep":7820,"AV-0":0.51,"AV-1":0.49},{"ep":7880,"AV-0":0.49,"AV-1":0.51},{"ep":7940,"AV-0":0.44,"AV-1":0.56},{"ep":8000,"AV-0":0.52,"AV-1":0.48},{"ep":8060,"AV-0":0.48,"AV-1":0.52},{"ep":8120,"AV-0":0.53,"AV-1":0.47},{"ep":8180,"AV-0":0.47,"AV-1":0.53},{"ep":8220,"AV-0":0.5,"AV-1":0.5},{"ep":8280,"AV-0":0.8,"AV-1":0.2}],
"g":[{"ep":200,"AV-0":0.38,"AV-1":0.62},{"ep":240,"AV-0":0.55,"AV-1":0.45},{"ep":300,"AV-0":0.44,"AV-1":0.56},{"ep":360,"AV-0":0.53,"AV-1":0.47},{"ep":420,"AV-0":0.47,"AV-1":0.53},{"ep":480,"AV-0":0.55,"AV-1":0.45},{"ep":540,"AV-0":0.45,"AV-1":0.55},{"ep":600,"AV-0":0.52,"AV-1":0.48},{"ep":660,"AV-0":0.48,"AV-1":0.52},{"ep":720,"AV-0":0.54,"AV-1":0.46},{"ep":780,"AV-0":0.46,"AV-1":0.54},{"ep":840,"AV-0":0.51,"AV-1":0.49},{"ep":900,"AV-0":0.47,"AV-1":0.53},{"ep":960,"AV-0":0.53,"AV-1":0.47},{"ep":1020,"AV-0":0.57,"AV-1":0.43},{"ep":1080,"AV-0":0.49,"AV-1":0.51},{"ep":1140,"AV-0":0.45,"AV-1":0.55},{"ep":1200,"AV-0":0.52,"AV-1":0.48},{"ep":1260,"AV-0":0.48,"AV-1":0.52},{"ep":1320,"AV-0":0.54,"AV-1":0.46},{"ep":1380,"AV-0":0.46,"AV-1":0.54},{"ep":1440,"AV-0":0.51,"AV-1":0.49},{"ep":1500,"AV-0":0.49,"AV-1":0.51},{"ep":1560,"AV-0":0.55,"AV-1":0.45},{"ep":1620,"AV-0":0.45,"AV-1":0.55},{"ep":1680,"AV-0":0.5,"AV-1":0.5},{"ep":1740,"AV-0":0.53,"AV-1":0.47},{"ep":1800,"AV-0":0.47,"AV-1":0.53},{"ep":1860,"AV-0":0.51,"AV-1":0.49},{"ep":1920,"AV-0":0.46,"AV-1":0.54},{"ep":1980,"AV-0":0.53,"AV-1":0.47},{"ep":2040,"AV-0":0.49,"AV-1":0.51},{"ep":2100,"AV-0":0.52,"AV-1":0.48},{"ep":2160,"AV-0":0.46,"AV-1":0.54},{"ep":2220,"AV-0":0.5,"AV-1":0.5},{"ep":2280,"AV-0":0.54,"AV-1":0.46},{"ep":2340,"AV-0":0.48,"AV-1":0.52},{"ep":2400,"AV-0":0.51,"AV-1":0.49},{"ep":2460,"AV-0":0.45,"AV-1":0.55},{"ep":2520,"AV-0":0.53,"AV-1":0.47},{"ep":2580,"AV-0":0.49,"AV-1":0.51},{"ep":2640,"AV-0":0.52,"AV-1":0.48},{"ep":2700,"AV-0":0.47,"AV-1":0.53},{"ep":2760,"AV-0":0.54,"AV-1":0.46},{"ep":2820,"AV-0":0.48,"AV-1":0.52},{"ep":2880,"AV-0":0.51,"AV-1":0.49},{"ep":2940,"AV-0":0.46,"AV-1":0.54},{"ep":3000,"AV-0":0.53,"AV-1":0.47},{"ep":3060,"AV-0":0.49,"AV-1":0.51},{"ep":3120,"AV-0":0.55,"AV-1":0.45},{"ep":3180,"AV-0":0.47,"AV-1":0.53},{"ep":3240,"AV-0":0.5,"AV-1":0.5},{"ep":3300,"AV-0":0.45,"AV-1":0.55},{"ep":3360,"AV-0":0.52,"AV-1":0.48},{"ep":3420,"AV-0":0.48,"AV-1":0.52},{"ep":3480,"AV-0":0.54,"AV-1":0.46},{"ep":3540,"AV-0":0.47,"AV-1":0.53},{"ep":3600,"AV-0":0.51,"AV-1":0.49},{"ep":3660,"AV-0":0.49,"AV-1":0.51},{"ep":3720,"AV-0":0.53,"AV-1":0.47},{"ep":3780,"AV-0":0.46,"AV-1":0.54},{"ep":3840,"AV-0":0.52,"AV-1":0.48},{"ep":3900,"AV-0":0.48,"AV-1":0.52},{"ep":3960,"AV-0":0.55,"AV-1":0.45},{"ep":4020,"AV-0":0.47,"AV-1":0.53},{"ep":4080,"AV-0":0.51,"AV-1":0.49},{"ep":4140,"AV-0":0.45,"AV-1":0.55},{"ep":4200,"AV-0":0.53,"AV-1":0.47},{"ep":4260,"AV-0":0.49,"AV-1":0.51},{"ep":4320,"AV-0":0.52,"AV-1":0.48},{"ep":4380,"AV-0":0.46,"AV-1":0.54},{"ep":4440,"AV-0":0.54,"AV-1":0.46},{"ep":4500,"AV-0":0.48,"AV-1":0.52},{"ep":4560,"AV-0":0.51,"AV-1":0.49},{"ep":4620,"AV-0":0.47,"AV-1":0.53},{"ep":4680,"AV-0":0.53,"AV-1":0.47},{"ep":4740,"AV-0":0.49,"AV-1":0.51},{"ep":4800,"AV-0":0.45,"AV-1":0.55},{"ep":4860,"AV-0":0.52,"AV-1":0.48},{"ep":4920,"AV-0":0.48,"AV-1":0.52},{"ep":4980,"AV-0":0.54,"AV-1":0.46},{"ep":5040,"AV-0":0.46,"AV-1":0.54},{"ep":5100,"AV-0":0.51,"AV-1":0.49},{"ep":5160,"AV-0":0.49,"AV-1":0.51},{"ep":5220,"AV-0":0.55,"AV-1":0.45},{"ep":5280,"AV-0":0.47,"AV-1":0.53},{"ep":5340,"AV-0":0.5,"AV-1":0.5},{"ep":5400,"AV-0":0.45,"AV-1":0.55},{"ep":5460,"AV-0":0.53,"AV-1":0.47},{"ep":5520,"AV-0":0.48,"AV-1":0.52},{"ep":5580,"AV-0":0.52,"AV-1":0.48},{"ep":5640,"AV-0":0.46,"AV-1":0.54},{"ep":5700,"AV-0":0.54,"AV-1":0.46},{"ep":5760,"AV-0":0.49,"AV-1":0.51},{"ep":5820,"AV-0":0.51,"AV-1":0.49},{"ep":5880,"AV-0":0.46,"AV-1":0.54},{"ep":5940,"AV-0":0.53,"AV-1":0.47},{"ep":6000,"AV-0":0.48,"AV-1":0.52},{"ep":6060,"AV-0":0.52,"AV-1":0.48},{"ep":6120,"AV-0":0.47,"AV-1":0.53},{"ep":6180,"AV-0":0.54,"AV-1":0.46},{"ep":6240,"AV-0":0.49,"AV-1":0.51},{"ep":6300,"AV-0":0.51,"AV-1":0.49},{"ep":6360,"AV-0":0.45,"AV-1":0.55},{"ep":6420,"AV-0":0.58,"AV-1":0.42},{"ep":6480,"AV-0":0.5,"AV-1":0.5},{"ep":6540,"AV-0":0.47,"AV-1":0.53},{"ep":6600,"AV-0":0.53,"AV-1":0.47},{"ep":6660,"AV-0":0.48,"AV-1":0.52},{"ep":6720,"AV-0":0.55,"AV-1":0.45},{"ep":6780,"AV-0":0.46,"AV-1":0.54},{"ep":6840,"AV-0":0.51,"AV-1":0.49},{"ep":6900,"AV-0":0.49,"AV-1":0.51},{"ep":6960,"AV-0":0.53,"AV-1":0.47},{"ep":7020,"AV-0":0.46,"AV-1":0.54},{"ep":7080,"AV-0":0.52,"AV-1":0.48},{"ep":7140,"AV-0":0.48,"AV-1":0.52},{"ep":7200,"AV-0":0.54,"AV-1":0.46},{"ep":7260,"AV-0":0.47,"AV-1":0.53},{"ep":7320,"AV-0":0.51,"AV-1":0.49},{"ep":7380,"AV-0":0.45,"AV-1":0.55},{"ep":7440,"AV-0":0.53,"AV-1":0.47},{"ep":7500,"AV-0":0.49,"AV-1":0.51},{"ep":7560,"AV-0":0.52,"AV-1":0.48},{"ep":7620,"AV-0":0.46,"AV-1":0.54},{"ep":7680,"AV-0":0.54,"AV-1":0.46},{"ep":7740,"AV-0":0.48,"AV-1":0.52},{"ep":7800,"AV-0":0.51,"AV-1":0.49},{"ep":7860,"AV-0":0.46,"AV-1":0.54},{"ep":7920,"AV-0":0.53,"AV-1":0.47},{"ep":7980,"AV-0":0.49,"AV-1":0.51},{"ep":8040,"AV-0":0.55,"AV-1":0.45},{"ep":8100,"AV-0":0.47,"AV-1":0.53},{"ep":8160,"AV-0":0.52,"AV-1":0.48},{"ep":8220,"AV-0":0.48,"AV-1":0.52},{"ep":8270,"AV-0":0.51,"AV-1":0.49}]
},
"spacing":34,
"vconcat":[
{"spacing":0,"bounds":"flush","resolve":{"scale":{"color":"independent","strokeDash":"independent"},"legend":{"color":"independent","strokeDash":"independent"}},"hconcat":[
 {"width":8,"height":1,"data":{"values":[]},"mark":"point","view":{"stroke":null}},
 {"spacing":153,"resolve":{"scale":{"color":"independent","strokeDash":"independent"},"legend":{"color":"independent","strokeDash":"independent"}},"hconcat":[
 {"title":{"text":"(a) IDQN","orient":"bottom","anchor":"middle","frame":"bounds","font":"Liberation Serif","fontSize":23,"fontWeight":"normal","color":"#000000","offset":48,"dx":-21},
  "resolve":{"scale":{"color":"independent","strokeDash":"independent"},"legend":{"color":"independent","strokeDash":"independent"}},
  "vconcat":[
  {"width":428,"height":218,
   "title":{"text":"Actions for (0, 0)","font":"Liberation Serif","fontSize":16,"fontWeight":"normal","color":"#000000","offset":-42,"dx":-15,"anchor":"middle","frame":"group"},
   "encoding":{
    "x":{"field":"ep","type":"quantitative","scale":{"domain":[-414,8704],"nice":false,"zero":false},"axis":{"values":[0,2000,4000,6000,8000],"format":"d","title":"Episodes","grid":false,"domain":false,"tickSize":4,"tickColor":"#333333","tickWidth":0.8,"labelFontSize":9,"labelFont":"DejaVu Sans","labelColor":"#222222","labelPadding":2,"labelFlush":false,"labelOverlap":false,"titleFontSize":9,"titleFont":"DejaVu Sans","titleFontWeight":"normal","titleColor":"#222222","titlePadding":3}},
    "color":{"field":"s","type":"nominal","scale":{"domain":["Human-0","Human-1","AV-0","AV-1","Human learning","Mutation - Machine learning"],"range":["#c14e4e","#339999","#b22222","#008080","#1e90ff","#556b2f"]},"legend":{"title":null,"orient":"none","legendX":335,"legendY":-45,"columns":2,"symbolType":"M-1,0H3","symbolSize":81,"symbolStrokeWidth":1.5,"labelFontSize":9,"labelFont":"DejaVu Sans","labelColor":"#222222","labelOffset":15,"labelLimit":70,"columnPadding":18,"rowPadding":2.5,"padding":3,"strokeColor":"#cccccc","fillColor":"#ffffff","cornerRadius":3}},
    "strokeDash":{"field":"s","type":"nominal","scale":{"domain":["Human-0","Human-1","AV-0","AV-1","Human learning","Mutation - Machine learning"],"range":[[1,0],[1,0],[1.5,2.5],[1.5,2.5],[5,2.5],[5,2.5]]},"legend":{"title":null,"orient":"none","legendX":335,"legendY":-45,"columns":2,"symbolType":"M-1,0H3","symbolSize":81,"symbolStrokeWidth":1.5,"labelFontSize":9,"labelFont":"DejaVu Sans","labelColor":"#222222","labelOffset":15,"labelLimit":70,"columnPadding":18,"rowPadding":2.5,"padding":3,"strokeColor":"#cccccc","fillColor":"#ffffff","cornerRadius":3}}
   },
   "layer":[
    {"data":{"name":"hum"},"transform":[{"fold":["Human-0","Human-1"],"as":["s","v"]}],"mark":{"type":"line","strokeWidth":1.5},"encoding":{"y":{"field":"v","type":"quantitative","scale":{"domain":[-0.05,1.05],"nice":false,"zero":false},"axis":{"values":[0,0.2,0.4,0.6,0.8,1],"tickCount":12,"format":".1f","title":"Number of Drivers (Scaled by Group Size)","grid":true,"gridColor":"#b8b8b8","gridWidth":0.8,"domain":false,"tickSize":4,"tickColor":"#333333","tickWidth":0.8,"labelFontSize":9,"labelFont":"DejaVu Sans","labelColor":"#222222","labelPadding":2,"labelOverlap":false,"titleFontSize":9,"titleFont":"DejaVu Sans","titleFontWeight":"normal","titleColor":"#222222","titlePadding":4}}}},
    {"data":{"name":"a"},"transform":[{"fold":["AV-0","AV-1"],"as":["s","v"]}],"mark":{"type":"line","strokeWidth":1.5},"encoding":{"y":{"field":"v","type":"quantitative"}}},
    {"data":{"name":"rules"},"mark":{"type":"rule","strokeWidth":1.3},"encoding":{}}
   ]}
 ]},
 {"title":{"text":"(b) VDN","orient":"bottom","anchor":"middle","frame":"bounds","font":"Liberation Serif","fontSize":23,"fontWeight":"normal","color":"#000000","offset":48,"dx":-21},
  "resolve":{"scale":{"color":"independent","strokeDash":"independent"},"legend":{"color":"independent","strokeDash":"independent"}},
  "vconcat":[
  {"width":429,"height":218,
   "title":{"text":"Actions for (0, 0)","font":"Liberation Serif","fontSize":16,"fontWeight":"normal","color":"#000000","offset":-42,"dx":-15,"anchor":"middle","frame":"group"},
   "encoding":{
    "x":{"field":"ep","type":"quantitative","scale":{"domain":[-414,8704],"nice":false,"zero":false},"axis":{"values":[0,2000,4000,6000,8000],"format":"d","title":"Episodes","grid":false,"domain":false,"tickSize":4,"tickColor":"#333333","tickWidth":0.8,"labelFontSize":9,"labelFont":"DejaVu Sans","labelColor":"#222222","labelPadding":2,"labelFlush":false,"labelOverlap":false,"titleFontSize":9,"titleFont":"DejaVu Sans","titleFontWeight":"normal","titleColor":"#222222","titlePadding":3}},
    "color":{"field":"s","type":"nominal","scale":{"domain":["Human-0","Human-1","AV-0","AV-1","Human learning","Mutation - Machine learning"],"range":["#c14e4e","#339999","#b22222","#008080","#1e90ff","#556b2f"]},"legend":{"title":null,"orient":"none","legendX":335,"legendY":-45,"columns":2,"symbolType":"M-1,0H3","symbolSize":81,"symbolStrokeWidth":1.5,"labelFontSize":9,"labelFont":"DejaVu Sans","labelColor":"#222222","labelOffset":15,"labelLimit":70,"columnPadding":18,"rowPadding":2.5,"padding":3,"strokeColor":"#cccccc","fillColor":"#ffffff","cornerRadius":3}},
    "strokeDash":{"field":"s","type":"nominal","scale":{"domain":["Human-0","Human-1","AV-0","AV-1","Human learning","Mutation - Machine learning"],"range":[[1,0],[1,0],[1.5,2.5],[1.5,2.5],[5,2.5],[5,2.5]]},"legend":{"title":null,"orient":"none","legendX":335,"legendY":-45,"columns":2,"symbolType":"M-1,0H3","symbolSize":81,"symbolStrokeWidth":1.5,"labelFontSize":9,"labelFont":"DejaVu Sans","labelColor":"#222222","labelOffset":15,"labelLimit":70,"columnPadding":18,"rowPadding":2.5,"padding":3,"strokeColor":"#cccccc","fillColor":"#ffffff","cornerRadius":3}}
   },
   "layer":[
    {"data":{"name":"hum"},"transform":[{"fold":["Human-0","Human-1"],"as":["s","v"]}],"mark":{"type":"line","strokeWidth":1.5},"encoding":{"y":{"field":"v","type":"quantitative","scale":{"domain":[-0.05,1.05],"nice":false,"zero":false},"axis":{"values":[0,0.2,0.4,0.6,0.8,1],"tickCount":12,"format":".1f","title":"Number of Drivers (Scaled by Group Size)","grid":true,"gridColor":"#b8b8b8","gridWidth":0.8,"domain":false,"tickSize":4,"tickColor":"#333333","tickWidth":0.8,"labelFontSize":9,"labelFont":"DejaVu Sans","labelColor":"#222222","labelPadding":2,"labelOverlap":false,"titleFontSize":9,"titleFont":"DejaVu Sans","titleFontWeight":"normal","titleColor":"#222222","titlePadding":4}}}},
    {"data":{"name":"b"},"transform":[{"fold":["AV-0","AV-1"],"as":["s","v"]}],"mark":{"type":"line","strokeWidth":1.5},"encoding":{"y":{"field":"v","type":"quantitative"}}},
    {"data":{"name":"rules"},"mark":{"type":"rule","strokeWidth":1.3},"encoding":{}}
   ]}
 ]}
]}]},
{"spacing":0,"bounds":"flush","resolve":{"scale":{"color":"independent","strokeDash":"independent"},"legend":{"color":"independent","strokeDash":"independent"}},"hconcat":[
 {"width":8,"height":1,"data":{"values":[]},"mark":"point","view":{"stroke":null}},
 {"spacing":148,"resolve":{"scale":{"color":"independent","strokeDash":"independent"},"legend":{"color":"independent","strokeDash":"independent"}},"hconcat":[
 {"title":{"text":"(c) QMIX","orient":"bottom","anchor":"middle","frame":"bounds","font":"Liberation Serif","fontSize":23,"fontWeight":"normal","color":"#000000","offset":51,"dx":-21},
  "resolve":{"scale":{"color":"independent","strokeDash":"independent"},"legend":{"color":"independent","strokeDash":"independent"}},
  "vconcat":[
  {"width":428,"height":217,
   "title":{"text":"Actions for (0, 0)","font":"Liberation Serif","fontSize":16,"fontWeight":"normal","color":"#000000","offset":-41,"dx":-15,"anchor":"middle","frame":"group"},
   "encoding":{
    "x":{"field":"ep","type":"quantitative","scale":{"domain":[-414,8704],"nice":false,"zero":false},"axis":{"values":[0,2000,4000,6000,8000],"format":"d","title":"Episodes","grid":false,"domain":false,"tickSize":4,"tickColor":"#333333","tickWidth":0.8,"labelFontSize":9,"labelFont":"DejaVu Sans","labelColor":"#222222","labelPadding":2,"labelFlush":false,"labelOverlap":false,"titleFontSize":9,"titleFont":"DejaVu Sans","titleFontWeight":"normal","titleColor":"#222222","titlePadding":3}},
    "color":{"field":"s","type":"nominal","scale":{"domain":["Human-0","Human-1","AV-0","AV-1","Human learning","Mutation - Machine learning"],"range":["#c14e4e","#339999","#b22222","#008080","#1e90ff","#556b2f"]},"legend":{"title":null,"orient":"none","legendX":335,"legendY":-46,"columns":2,"symbolType":"M-1,0H3","symbolSize":81,"symbolStrokeWidth":1.5,"labelFontSize":9,"labelFont":"DejaVu Sans","labelColor":"#222222","labelOffset":15,"labelLimit":70,"columnPadding":18,"rowPadding":2.5,"padding":3,"strokeColor":"#cccccc","fillColor":"#ffffff","cornerRadius":3}},
    "strokeDash":{"field":"s","type":"nominal","scale":{"domain":["Human-0","Human-1","AV-0","AV-1","Human learning","Mutation - Machine learning"],"range":[[1,0],[1,0],[1.5,2.5],[1.5,2.5],[5,2.5],[5,2.5]]},"legend":{"title":null,"orient":"none","legendX":335,"legendY":-46,"columns":2,"symbolType":"M-1,0H3","symbolSize":81,"symbolStrokeWidth":1.5,"labelFontSize":9,"labelFont":"DejaVu Sans","labelColor":"#222222","labelOffset":15,"labelLimit":70,"columnPadding":18,"rowPadding":2.5,"padding":3,"strokeColor":"#cccccc","fillColor":"#ffffff","cornerRadius":3}}
   },
   "layer":[
    {"data":{"name":"hum"},"transform":[{"fold":["Human-0","Human-1"],"as":["s","v"]}],"mark":{"type":"line","strokeWidth":1.5},"encoding":{"y":{"field":"v","type":"quantitative","scale":{"domain":[-0.05,1.05],"nice":false,"zero":false},"axis":{"values":[0,0.2,0.4,0.6,0.8,1],"tickCount":12,"format":".1f","title":"Number of Drivers (Scaled by Group Size)","grid":true,"gridColor":"#b8b8b8","gridWidth":0.8,"domain":false,"tickSize":4,"tickColor":"#333333","tickWidth":0.8,"labelFontSize":9,"labelFont":"DejaVu Sans","labelColor":"#222222","labelPadding":2,"labelOverlap":false,"titleFontSize":9,"titleFont":"DejaVu Sans","titleFontWeight":"normal","titleColor":"#222222","titlePadding":4}}}},
    {"data":{"name":"c"},"transform":[{"fold":["AV-0","AV-1"],"as":["s","v"]}],"mark":{"type":"line","strokeWidth":1.5},"encoding":{"y":{"field":"v","type":"quantitative"}}},
    {"data":{"name":"rules"},"mark":{"type":"rule","strokeWidth":1.3},"encoding":{}}
   ]}
 ]},
 {"title":{"text":"(d) MAPPO","orient":"bottom","anchor":"middle","frame":"bounds","font":"Liberation Serif","fontSize":23,"fontWeight":"normal","color":"#000000","offset":47,"dx":-8},
  "resolve":{"scale":{"color":"independent","strokeDash":"independent"},"legend":{"color":"independent","strokeDash":"independent"}},
  "bounds":"flush","spacing":0,
  "vconcat":[
  {"width":10,"height":31,"data":{"values":[]},"mark":"point","view":{"stroke":null}},
  {"width":378,"height":193,
   "title":{"text":"Actions for (0, 0)","font":"DejaVu Sans","fontSize":9,"fontWeight":"normal","color":"#000000","offset":-35.5,"anchor":"middle","frame":"group"},
   "encoding":{
    "x":{"field":"ep","type":"quantitative","scale":{"domain":[-414,8704],"nice":false,"zero":false},"axis":{"values":[0,2000,4000,6000,8000],"format":"d","title":"Episodes","grid":false,"domain":false,"tickSize":3.5,"tickColor":"#333333","tickWidth":0.8,"labelFontSize":8,"labelFont":"DejaVu Sans","labelColor":"#222222","labelPadding":2,"labelFlush":false,"labelOverlap":false,"titleFontSize":8,"titleFont":"DejaVu Sans","titleFontWeight":"normal","titleColor":"#222222","titlePadding":3}},
    "color":{"field":"s","type":"nominal","scale":{"domain":["Human-0","Human-1","AV-0","AV-1","Human learning","Mutation - Machine learning"],"range":["#c14e4e","#339999","#b22222","#008080","#1e90ff","#556b2f"]},"legend":{"title":null,"orient":"none","legendX":297,"legendY":-40,"columns":2,"symbolType":"M-1,0H3","symbolSize":64,"symbolStrokeWidth":1.5,"labelFontSize":8,"labelFont":"DejaVu Sans","labelColor":"#222222","labelOffset":13,"labelLimit":300,"columnPadding":10,"rowPadding":3,"padding":3,"strokeColor":"#cccccc","fillColor":"#ffffff","cornerRadius":3}},
    "strokeDash":{"field":"s","type":"nominal","scale":{"domain":["Human-0","Human-1","AV-0","AV-1","Human learning","Mutation - Machine learning"],"range":[[1,0],[1,0],[1.5,2.5],[1.5,2.5],[5,2.5],[5,2.5]]},"legend":{"title":null,"orient":"none","legendX":297,"legendY":-40,"columns":2,"symbolType":"M-1,0H3","symbolSize":64,"symbolStrokeWidth":1.5,"labelFontSize":8,"labelFont":"DejaVu Sans","labelColor":"#222222","labelOffset":13,"labelLimit":300,"columnPadding":10,"rowPadding":3,"padding":3,"strokeColor":"#cccccc","fillColor":"#ffffff","cornerRadius":3}}
   },
   "layer":[
    {"data":{"name":"hum"},"transform":[{"fold":["Human-0","Human-1"],"as":["s","v"]}],"mark":{"type":"line","strokeWidth":1.5},"encoding":{"y":{"field":"v","type":"quantitative","scale":{"domain":[-0.05,1.05],"nice":false,"zero":false},"axis":{"values":[0,0.2,0.4,0.6,0.8,1],"tickCount":12,"format":".1f","title":"Number of Drivers (Scaled by Group Size)","grid":true,"gridColor":"#b8b8b8","gridWidth":0.8,"domain":false,"tickSize":3.5,"tickColor":"#333333","tickWidth":0.8,"labelFontSize":8,"labelFont":"DejaVu Sans","labelColor":"#222222","labelPadding":2,"labelOverlap":false,"titleFontSize":8,"titleFont":"DejaVu Sans","titleFontWeight":"normal","titleColor":"#222222","titlePadding":4}}}},
    {"data":{"name":"d"},"transform":[{"fold":["AV-0","AV-1"],"as":["s","v"]}],"mark":{"type":"line","strokeWidth":1.3},"encoding":{"y":{"field":"v","type":"quantitative"}}},
    {"data":{"name":"rules"},"mark":{"type":"rule","strokeWidth":1.2},"encoding":{}}
   ]}
 ]}
]}]},
{"spacing":171,"resolve":{"scale":{"color":"independent","strokeDash":"independent"},"legend":{"color":"independent","strokeDash":"independent"}},"hconcat":[
 {"title":{"text":"(e) IPPO","orient":"bottom","anchor":"middle","frame":"bounds","font":"Liberation Serif","fontSize":23,"fontWeight":"normal","color":"#000000","offset":43,"dx":-7},
  "resolve":{"scale":{"color":"independent","strokeDash":"independent"},"legend":{"color":"independent","strokeDash":"independent"}},
  "vconcat":[
  {"width":378,"height":193,
   "title":{"text":"Actions for (0, 0)","font":"DejaVu Sans","fontSize":9,"fontWeight":"normal","color":"#000000","offset":-35.5,"anchor":"middle","frame":"group"},
   "encoding":{
    "x":{"field":"ep","type":"quantitative","scale":{"domain":[-414,8704],"nice":false,"zero":false},"axis":{"values":[0,2000,4000,6000,8000],"format":"d","title":"Episodes","grid":false,"domain":false,"tickSize":3.5,"tickColor":"#333333","tickWidth":0.8,"labelFontSize":8,"labelFont":"DejaVu Sans","labelColor":"#222222","labelPadding":2,"labelFlush":false,"labelOverlap":false,"titleFontSize":8,"titleFont":"DejaVu Sans","titleFontWeight":"normal","titleColor":"#222222","titlePadding":3}},
    "color":{"field":"s","type":"nominal","scale":{"domain":["Human-0","Human-1","AV-0","AV-1","Human learning","Mutation - Machine learning"],"range":["#c14e4e","#339999","#b22222","#008080","#1e90ff","#556b2f"]},"legend":{"title":null,"orient":"none","legendX":297,"legendY":-40,"columns":2,"symbolType":"M-1,0H3","symbolSize":64,"symbolStrokeWidth":1.5,"labelFontSize":8,"labelFont":"DejaVu Sans","labelColor":"#222222","labelOffset":13,"labelLimit":300,"columnPadding":10,"rowPadding":3,"padding":3,"strokeColor":"#cccccc","fillColor":"#ffffff","cornerRadius":3}},
    "strokeDash":{"field":"s","type":"nominal","scale":{"domain":["Human-0","Human-1","AV-0","AV-1","Human learning","Mutation - Machine learning"],"range":[[1,0],[1,0],[1.5,2.5],[1.5,2.5],[5,2.5],[5,2.5]]},"legend":{"title":null,"orient":"none","legendX":297,"legendY":-40,"columns":2,"symbolType":"M-1,0H3","symbolSize":64,"symbolStrokeWidth":1.5,"labelFontSize":8,"labelFont":"DejaVu Sans","labelColor":"#222222","labelOffset":13,"labelLimit":300,"columnPadding":10,"rowPadding":3,"padding":3,"strokeColor":"#cccccc","fillColor":"#ffffff","cornerRadius":3}}
   },
   "layer":[
    {"data":{"name":"hum"},"transform":[{"fold":["Human-0","Human-1"],"as":["s","v"]}],"mark":{"type":"line","strokeWidth":1.5},"encoding":{"y":{"field":"v","type":"quantitative","scale":{"domain":[-0.05,1.05],"nice":false,"zero":false},"axis":{"values":[0,0.2,0.4,0.6,0.8,1],"tickCount":12,"format":".1f","title":"Number of Drivers (Scaled by Group Size)","grid":true,"gridColor":"#b8b8b8","gridWidth":0.8,"domain":false,"tickSize":3.5,"tickColor":"#333333","tickWidth":0.8,"labelFontSize":8,"labelFont":"DejaVu Sans","labelColor":"#222222","labelPadding":2,"labelOverlap":false,"titleFontSize":8,"titleFont":"DejaVu Sans","titleFontWeight":"normal","titleColor":"#222222","titlePadding":4}}}},
    {"data":{"name":"e"},"transform":[{"fold":["AV-0","AV-1"],"as":["s","v"]}],"mark":{"type":"line","strokeWidth":1.3},"encoding":{"y":{"field":"v","type":"quantitative"}}},
    {"data":{"name":"rules"},"mark":{"type":"rule","strokeWidth":1.2},"encoding":{}}
   ]}
 ]},
 {"title":{"text":"(f) ISAC","orient":"bottom","anchor":"middle","frame":"bounds","font":"Liberation Serif","fontSize":23,"fontWeight":"normal","color":"#000000","offset":43,"dx":-8},
  "resolve":{"scale":{"color":"independent","strokeDash":"independent"},"legend":{"color":"independent","strokeDash":"independent"}},
  "vconcat":[
  {"width":378,"height":193,
   "title":{"text":"Actions for (0, 0)","font":"DejaVu Sans","fontSize":9,"fontWeight":"normal","color":"#000000","offset":-35.5,"anchor":"middle","frame":"group"},
   "encoding":{
    "x":{"field":"ep","type":"quantitative","scale":{"domain":[-414,8704],"nice":false,"zero":false},"axis":{"values":[0,2000,4000,6000,8000],"format":"d","title":"Episodes","grid":false,"domain":false,"tickSize":3.5,"tickColor":"#333333","tickWidth":0.8,"labelFontSize":8,"labelFont":"DejaVu Sans","labelColor":"#222222","labelPadding":2,"labelFlush":false,"labelOverlap":false,"titleFontSize":8,"titleFont":"DejaVu Sans","titleFontWeight":"normal","titleColor":"#222222","titlePadding":3}},
    "color":{"field":"s","type":"nominal","scale":{"domain":["Human-0","Human-1","AV-0","AV-1","Human learning","Mutation - Machine learning"],"range":["#c14e4e","#339999","#b22222","#008080","#1e90ff","#556b2f"]},"legend":{"title":null,"orient":"none","legendX":297,"legendY":-40,"columns":2,"symbolType":"M-1,0H3","symbolSize":64,"symbolStrokeWidth":1.5,"labelFontSize":8,"labelFont":"DejaVu Sans","labelColor":"#222222","labelOffset":13,"labelLimit":300,"columnPadding":10,"rowPadding":3,"padding":3,"strokeColor":"#cccccc","fillColor":"#ffffff","cornerRadius":3}},
    "strokeDash":{"field":"s","type":"nominal","scale":{"domain":["Human-0","Human-1","AV-0","AV-1","Human learning","Mutation - Machine learning"],"range":[[1,0],[1,0],[1.5,2.5],[1.5,2.5],[5,2.5],[5,2.5]]},"legend":{"title":null,"orient":"none","legendX":297,"legendY":-40,"columns":2,"symbolType":"M-1,0H3","symbolSize":64,"symbolStrokeWidth":1.5,"labelFontSize":8,"labelFont":"DejaVu Sans","labelColor":"#222222","labelOffset":13,"labelLimit":300,"columnPadding":10,"rowPadding":3,"padding":3,"strokeColor":"#cccccc","fillColor":"#ffffff","cornerRadius":3}}
   },
   "layer":[
    {"data":{"name":"hum"},"transform":[{"fold":["Human-0","Human-1"],"as":["s","v"]}],"mark":{"type":"line","strokeWidth":1.5},"encoding":{"y":{"field":"v","type":"quantitative","scale":{"domain":[-0.05,1.05],"nice":false,"zero":false},"axis":{"values":[0,0.2,0.4,0.6,0.8,1],"tickCount":12,"format":".1f","title":"Number of Drivers (Scaled by Group Size)","grid":true,"gridColor":"#b8b8b8","gridWidth":0.8,"domain":false,"tickSize":3.5,"tickColor":"#333333","tickWidth":0.8,"labelFontSize":8,"labelFont":"DejaVu Sans","labelColor":"#222222","labelPadding":2,"labelOverlap":false,"titleFontSize":8,"titleFont":"DejaVu Sans","titleFontWeight":"normal","titleColor":"#222222","titlePadding":4}}}},
    {"data":{"name":"f"},"transform":[{"fold":["AV-0","AV-1"],"as":["s","v"]}],"mark":{"type":"line","strokeWidth":1.3},"encoding":{"y":{"field":"v","type":"quantitative"}}},
    {"data":{"name":"rules"},"mark":{"type":"rule","strokeWidth":1.2},"encoding":{}}
   ]}
 ]}
]},
{"spacing":0,"bounds":"flush","resolve":{"scale":{"color":"independent","strokeDash":"independent"},"legend":{"color":"independent","strokeDash":"independent"}},"hconcat":[
 {"width":356,"height":1,"data":{"values":[]},"mark":"point","view":{"stroke":null}},
 {"title":{"text":"(g) MASAC","orient":"bottom","anchor":"middle","frame":"bounds","font":"Liberation Serif","fontSize":23,"fontWeight":"normal","color":"#000000","offset":44,"dx":-7},
  "resolve":{"scale":{"color":"independent","strokeDash":"independent"},"legend":{"color":"independent","strokeDash":"independent"}},
  "vconcat":[
  {"width":378,"height":193,
   "title":{"text":"Actions for (0, 0)","font":"DejaVu Sans","fontSize":9,"fontWeight":"normal","color":"#000000","offset":-35.5,"anchor":"middle","frame":"group"},
   "encoding":{
    "x":{"field":"ep","type":"quantitative","scale":{"domain":[-414,8704],"nice":false,"zero":false},"axis":{"values":[0,2000,4000,6000,8000],"format":"d","title":"Episodes","grid":false,"domain":false,"tickSize":3.5,"tickColor":"#333333","tickWidth":0.8,"labelFontSize":8,"labelFont":"DejaVu Sans","labelColor":"#222222","labelPadding":2,"labelFlush":false,"labelOverlap":false,"titleFontSize":8,"titleFont":"DejaVu Sans","titleFontWeight":"normal","titleColor":"#222222","titlePadding":3}},
    "color":{"field":"s","type":"nominal","scale":{"domain":["Human-0","Human-1","AV-0","AV-1","Human learning","Mutation - Machine learning"],"range":["#c14e4e","#339999","#b22222","#008080","#1e90ff","#556b2f"]},"legend":{"title":null,"orient":"none","legendX":297,"legendY":-40,"columns":2,"symbolType":"M-1,0H3","symbolSize":64,"symbolStrokeWidth":1.5,"labelFontSize":8,"labelFont":"DejaVu Sans","labelColor":"#222222","labelOffset":13,"labelLimit":300,"columnPadding":10,"rowPadding":3,"padding":3,"strokeColor":"#cccccc","fillColor":"#ffffff","cornerRadius":3}},
    "strokeDash":{"field":"s","type":"nominal","scale":{"domain":["Human-0","Human-1","AV-0","AV-1","Human learning","Mutation - Machine learning"],"range":[[1,0],[1,0],[1.5,2.5],[1.5,2.5],[5,2.5],[5,2.5]]},"legend":{"title":null,"orient":"none","legendX":297,"legendY":-40,"columns":2,"symbolType":"M-1,0H3","symbolSize":64,"symbolStrokeWidth":1.5,"labelFontSize":8,"labelFont":"DejaVu Sans","labelColor":"#222222","labelOffset":13,"labelLimit":300,"columnPadding":10,"rowPadding":3,"padding":3,"strokeColor":"#cccccc","fillColor":"#ffffff","cornerRadius":3}}
   },
   "layer":[
    {"data":{"name":"hum"},"transform":[{"fold":["Human-0","Human-1"],"as":["s","v"]}],"mark":{"type":"line","strokeWidth":1.5},"encoding":{"y":{"field":"v","type":"quantitative","scale":{"domain":[-0.05,1.05],"nice":false,"zero":false},"axis":{"values":[0,0.2,0.4,0.6,0.8,1],"tickCount":12,"format":".1f","title":"Number of Drivers (Scaled by Group Size)","grid":true,"gridColor":"#b8b8b8","gridWidth":0.8,"domain":false,"tickSize":3.5,"tickColor":"#333333","tickWidth":0.8,"labelFontSize":8,"labelFont":"DejaVu Sans","labelColor":"#222222","labelPadding":2,"labelOverlap":false,"titleFontSize":8,"titleFont":"DejaVu Sans","titleFontWeight":"normal","titleColor":"#222222","titlePadding":4}}}},
    {"data":{"name":"g"},"transform":[{"fold":["AV-0","AV-1"],"as":["s","v"]}],"mark":{"type":"line","strokeWidth":1.3},"encoding":{"y":{"field":"v","type":"quantitative"}}},
    {"data":{"name":"rules"},"mark":{"type":"rule","strokeWidth":1.2},"encoding":{}}
   ]}
 ]}
]}
]
}
